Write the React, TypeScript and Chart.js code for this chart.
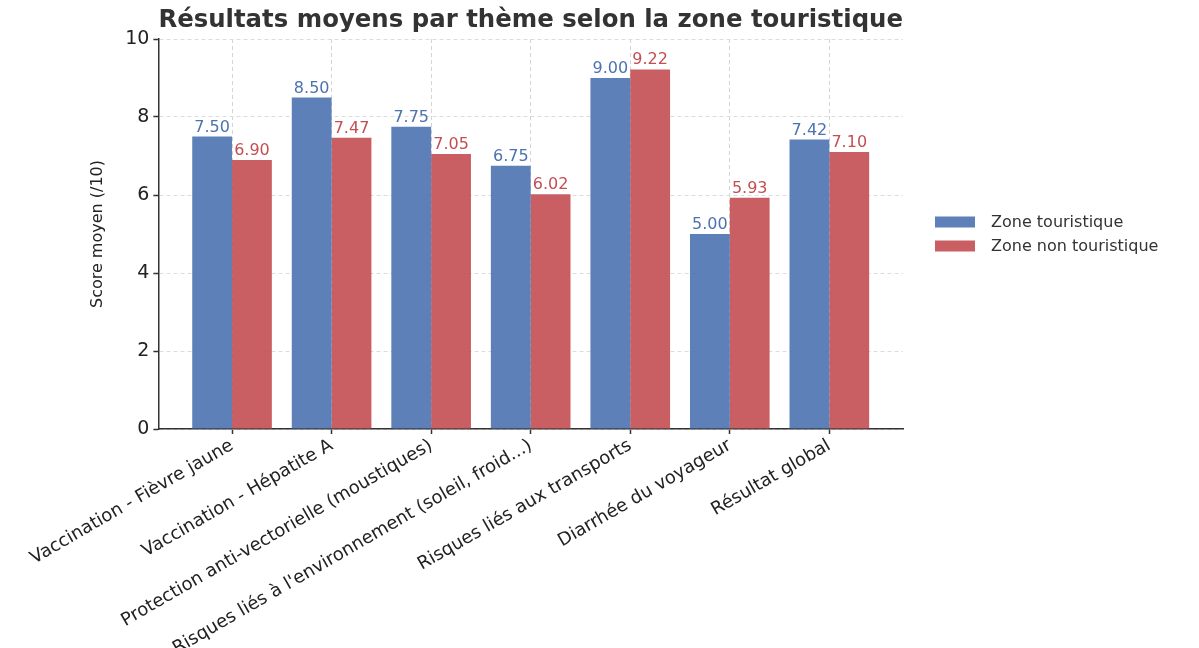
import React, { useEffect, useRef } from "react";
import { Chart, registerables } from "chart.js";

Chart.register(...registerables);

const categories = [
  "Vaccination - Fièvre jaune",
  "Vaccination - Hépatite A",
  "Protection anti-vectorielle (moustiques)",
  "Risques liés à l'environnement (soleil, froid...)",
  "Risques liés aux transports",
  "Diarrhée du voyageur",
  "Résultat global",
];

const touristique = [7.5, 8.5, 7.75, 6.75, 9.0, 5.0, 7.42];
const nonTouristique = [6.9, 7.47, 7.05, 6.02, 9.22, 5.93, 7.1];

const yTicks = [0, 2, 4, 6, 8, 10];

const seriesNames = ["Zone touristique", "Zone non touristique"];
const barColors = ["rgba(76,114,176,0.9)", "rgba(196,78,82,0.9)"];
const labelColors = ["#4C72B0", "#C44E52"];

const FONT = "'DejaVu Sans', sans-serif";

const valueLabels = {
  id: "valueLabels",
  afterDatasetsDraw(chart: any) {
    const ctx = chart.ctx;
    ctx.save();
    ctx.font = `16px ${FONT}`;
    ctx.textAlign = "center";
    ctx.textBaseline = "alphabetic";
    chart.data.datasets.forEach((ds: any, di: number) => {
      const meta = chart.getDatasetMeta(di);
      ctx.fillStyle = labelColors[di];
      meta.data.forEach((el: any, i: number) => {
        const v = ds.data[i].y;
        ctx.fillText(v.toFixed(2), el.x, el.y - 5);
      });
    });
    ctx.restore();
  },
};

const sideLegend = {
  id: "sideLegend",
  afterDraw(chart: any) {
    const ctx = chart.ctx;
    const area = chart.chartArea;
    const midY = (area.top + area.bottom) / 2;
    const boxX = area.right + 32;
    ctx.save();
    ctx.font = `16px ${FONT}`;
    ctx.textAlign = "left";
    ctx.textBaseline = "middle";
    chart.data.datasets.forEach((ds: any, di: number) => {
      const cy = midY - 12 + di * 24;
      ctx.fillStyle = ds.backgroundColor;
      ctx.fillRect(boxX, cy - 5.5, 40, 11);
      ctx.fillStyle = "#333";
      ctx.fillText(ds.label, boxX + 56, cy + 1);
    });
    ctx.restore();
  },
};

export default function App() {
  const ref = useRef<HTMLCanvasElement>(null);
  useEffect(() => {
    if (!ref.current) return;
    const chart = new Chart(ref.current, {
      type: "bar",
      data: {
        datasets: [
          {
            label: seriesNames[0],
            data: touristique.map((v, i) => ({ x: i, y: v })),
            backgroundColor: barColors[0],
            categoryPercentage: 0.8,
            barPercentage: 1.0,
          },
          {
            label: seriesNames[1],
            data: nonTouristique.map((v, i) => ({ x: i, y: v })),
            backgroundColor: barColors[1],
            categoryPercentage: 0.8,
            barPercentage: 1.0,
          },
        ],
      },
      options: {
        animation: false,
        responsive: true,
        maintainAspectRatio: false,
        layout: { padding: { left: 88, right: 296, top: 0, bottom: 0 } },
        plugins: {
          title: {
            display: true,
            text: "Résultats moyens par thème selon la zone touristique",
            fullSize: false,
            color: "#333",
            font: { family: FONT, size: 25, weight: "bold", lineHeight: 1.2 },
            padding: { top: 5, bottom: 4 },
          },
          legend: { display: false },
          tooltip: { enabled: false },
        },
        scales: {
          x: {
            type: "linear",
            min: -0.74,
            max: 6.74,
            offset: false,
            afterBuildTicks: (scale: any) => {
              scale.ticks = categories.map((_, i) => ({ value: i }));
            },
            afterFit: (scale: any) => {
              scale.height = 219;
            },
            ticks: {
              autoSkip: false,
              maxRotation: 30,
              minRotation: 30,
              padding: 1,
              color: "#222",
              font: { family: FONT, size: 18 },
              callback: (v: any) => categories[v as number],
            },
            grid: {
              offset: false,
              color: "#d4d4d4",
              lineWidth: 1,
              tickColor: "#333",
              tickLength: 5,
              tickWidth: 1.5,
            },
            border: { display: true, color: "#333", width: 1.5, dash: [4, 3] },
          },
          y: {
            min: 0,
            max: 10,
            afterBuildTicks: (scale: any) => {
              scale.ticks = yTicks.map((v) => ({ value: v }));
            },
            ticks: {
              padding: 4,
              color: "#222",
              font: { family: FONT, size: 19 },
            },
            title: {
              display: true,
              text: "Score moyen (/10)",
              color: "#222",
              font: { family: FONT, size: 16 },
              padding: { top: 0, bottom: 14 },
            },
            grid: {
              color: "#dcdcdc",
              lineWidth: 1,
              tickColor: "#333",
              tickLength: 5,
              tickWidth: 1.5,
            },
            border: { display: true, color: "#333", width: 1.5, dash: [4, 3] },
          },
        },
      } as any,
      plugins: [valueLabels, sideLegend],
    });
    return () => chart.destroy();
  }, []);
  return (
    <div style={{ position: "absolute", left: 0, top: 0, width: "1199px", height: "648px" }}>
      <canvas ref={ref} />
    </div>
  );
}
